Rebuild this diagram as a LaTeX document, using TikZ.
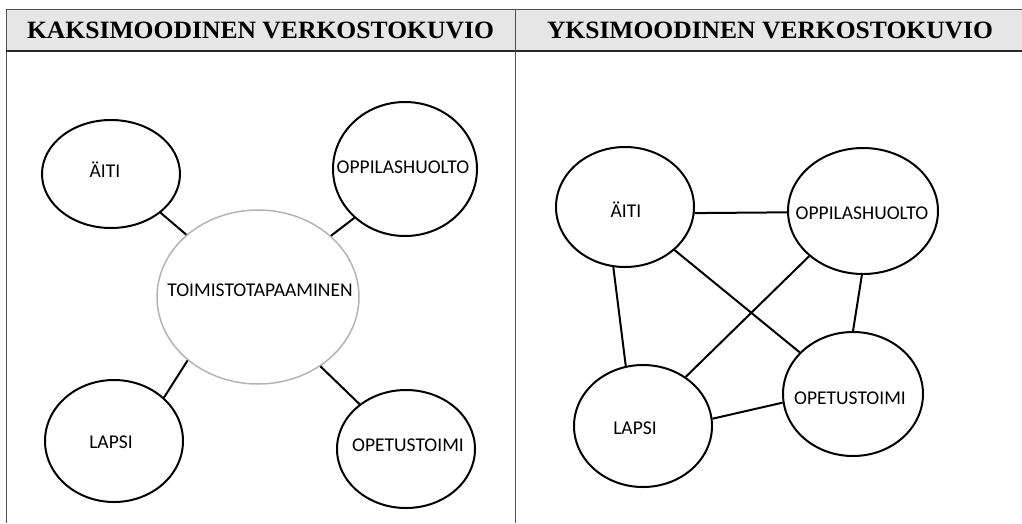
\documentclass[tikz,border=0pt]{standalone}
\usepackage{fontspec}
\setmainfont{Liberation Serif}
\newfontfamily\nodefont{Carlito}
\usetikzlibrary{shapes.geometric}
\definecolor{hdrfill}{HTML}{E6E6E6}
\definecolor{framecol}{HTML}{505050}
\definecolor{centcol}{HTML}{B4B4B4}
\begin{document}
\begin{tikzpicture}[x=1pt,y=-1pt,
  bub/.style={draw=black,line width=2pt,ellipse,inner sep=0pt,fill=white},
  lbl/.style={font=\nodefont\fontsize{19.5}{21}\selectfont,inner sep=0pt},
  conn/.style={line width=2pt,black},
  hdr/.style={inner sep=0pt,anchor=base}]
\useasboundingbox (0,0) rectangle (1022,523);
% header
\fill[hdrfill] (6,9.5) rectangle (1022,51);
\draw[framecol,line width=1pt] (1022,9.5) -- (6,9.5) -- (6,523);
\draw[black!85,line width=1.3pt] (6,51) -- (1022,51);
\draw[framecol,line width=1pt] (515,9.5) -- (515,523);
\node[hdr] (h1) at (260.5,38) {\resizebox{467pt}{16.5pt}{\textbf{KAKSIMOODINEN VERKOSTOKUVIO}}};
\node[hdr] (h2) at (770,38) {\resizebox{446pt}{16.5pt}{\textbf{YKSIMOODINEN VERKOSTOKUVIO}}};
% left panel
\node[bub,minimum width=138pt,minimum height=108pt] (la) at (111,174) {};
\node[bub,minimum width=144pt,minimum height=134pt] (lo) at (405,169) {};
\node[bub,draw=centcol,line width=1.5pt,minimum width=202pt,minimum height=174pt] (lc) at (258,297) {};
\node[bub,minimum width=138pt,minimum height=122pt] (ll) at (114,441) {};
\node[bub,minimum width=138pt,minimum height=118pt] (lp) at (406,449) {};
\node[lbl] (tla) at (105,170) {ÄITI};
\node[lbl] (tlo) at (403,167) {OPPILASHUOLTO};
\node[lbl] (tlc) at (260,290) {TOIMISTOTAPAAMINEN};
\node[lbl] (tll) at (111,442) {LAPSI};
\node[lbl] (tlp) at (408,445) {OPETUSTOIMI};
\draw[conn] (la.322) -- (lc.139);
\draw[conn] (lo.224) -- (lc.40);
\draw[conn] (ll.41) -- (lc.222);
\draw[conn] (lp.136) -- (lc.312);
% right panel
\node[bub,minimum width=138pt,minimum height=120pt] (ra) at (625,207) {};
\node[bub,minimum width=150pt,minimum height=126pt] (ro) at (863,211) {};
\node[bub,minimum width=138pt,minimum height=122pt] (rl) at (643,426) {};
\node[bub,minimum width=140pt,minimum height=124pt] (rp) at (853,394) {};
\node[lbl] (tra) at (626,210) {ÄITI};
\node[lbl] (tro) at (862,213) {OPPILASHUOLTO};
\node[lbl] (trl) at (635,428) {LAPSI};
\node[lbl] (trp) at (850,398) {OPETUSTOIMI};
\draw[conn] (ra.355) -- (ro.181);
\draw[conn] (ra.259) -- (rl.106);
\draw[conn] (ra.319) -- (rp.142);
\draw[conn] (ro.220) -- (rl.49);
\draw[conn] (ro.269) -- (rp.90);
\draw[conn] (rl.6) -- (rp.187);
\end{tikzpicture}
\end{document}
